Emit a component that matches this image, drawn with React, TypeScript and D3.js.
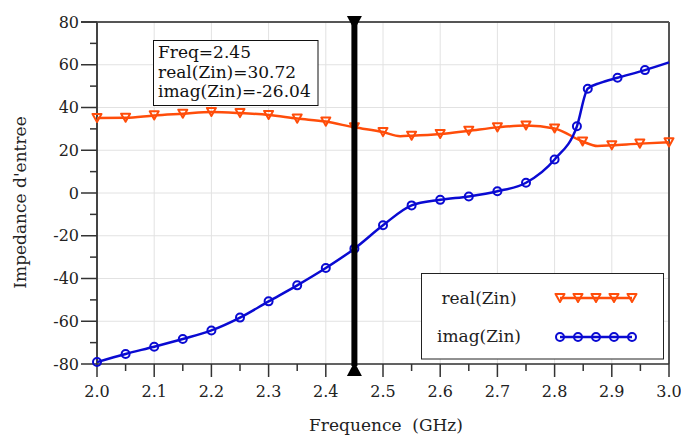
import React from "react";
import * as d3 from "d3";

// Input impedance of the antenna versus frequency (ADS-style plot)
const realFreq = [2.0, 2.05, 2.1, 2.15, 2.2, 2.25, 2.3, 2.35, 2.4, 2.45, 2.5, 2.55, 2.6, 2.65, 2.7, 2.75, 2.8, 2.849, 2.9, 2.949, 3.0];
const realVals = [35.1, 35.2, 36.3, 37.1, 37.9, 37.4, 36.5, 34.8, 33.4, 30.72, 28.5, 26.8, 27.6, 29.1, 30.7, 31.6, 30.2, 24.1, 22.3, 23.1, 23.7];

const imagFreq = [2.0, 2.05, 2.1, 2.15, 2.2, 2.25, 2.3, 2.35, 2.4, 2.45, 2.5, 2.55, 2.6, 2.65, 2.7, 2.75, 2.8, 2.839, 2.858, 2.91, 2.958];
const imagVals = [-79.1, -75.3, -71.9, -68.3, -64.3, -58.3, -50.7, -43.2, -35.1, -26.04, -15.1, -5.8, -3.2, -1.6, 0.8, 4.8, 15.7, 31.2, 48.8, 53.9, 57.5];

// extra samples of the swept traces between markers
const realExtraFreq = [2.53, 2.875];
const realExtraVals = [26.6, 22.0];
const imagExtraFreq = [2.88, 3.0];
const imagExtraVals = [51.5, 61.1];

const xTicks = [2.0, 2.1, 2.2, 2.3, 2.4, 2.5, 2.6, 2.7, 2.8, 2.9, 3.0];
const yTicks = [-80, -60, -40, -20, 0, 20, 40, 60, 80];

const markerFreq = 2.45;
const markerLines = ["Freq=2.45", "real(Zin)=30.72", "imag(Zin)=-26.04"];
const seriesNames = ["real(Zin)", "imag(Zin)"];

const W = 681;
const H = 437;
const left = 97;
const right = 669;
const top = 22;
const bottom = 364;

const ORANGE = "#ff4d0a";
const BLUE = "#0a0ad2";
const FONT = "'DejaVu Serif', serif";

function mergeSorted(fx: number[], fy: number[], ex: number[], ey: number[]) {
  const pts = fx.map((f, i) => [f, fy[i]] as [number, number]).concat(ex.map((f, i) => [f, ey[i]] as [number, number]));
  return pts.sort((a, b) => a[0] - b[0]);
}

function Tri({ cx, cy, s }: { cx: number; cy: number; s: number }) {
  const h = s * 0.9;
  return (
    <path
      d={`M${cx - s / 2},${cy - h / 2}L${cx + s / 2},${cy - h / 2}L${cx},${cy + h / 2}Z`}
      fill="none"
      stroke={ORANGE}
      strokeWidth={2}
      strokeLinejoin="round"
    />
  );
}

function Circ({ cx, cy, r }: { cx: number; cy: number; r: number }) {
  return <circle cx={cx} cy={cy} r={r} fill="none" stroke={BLUE} strokeWidth={2} />;
}

export default function App() {
  const x = d3.scaleLinear().domain([2.0, 3.0]).range([left, right]);
  const y = d3.scaleLinear().domain([-80, 80]).range([bottom, top]);

  const line = d3
    .line<[number, number]>()
    .x((d) => x(d[0]))
    .y((d) => y(d[1]))
    .curve(d3.curveMonotoneX);

  const realPts = mergeSorted(realFreq, realVals, realExtraFreq, realExtraVals);
  const imagPts = mergeSorted(imagFreq, imagVals, imagExtraFreq, imagExtraVals);

  const xMinor = d3.range(0, 10).map((i) => 2.05 + i * 0.1);
  const yMinor = d3.range(0, 8).map((i) => -70 + i * 20);

  const mx = x(markerFreq);

  const legendX = [560, 578, 596, 614, 632];

  return (
    <svg width={W} height={H} style={{ position: "absolute", left: 0, top: 0 }} fontFamily={FONT}>
      <rect width={W} height={H} fill="white" />
      {/* grid */}
      {xTicks.map((t) => (
        <line key={"gx" + t} x1={x(t)} x2={x(t)} y1={top} y2={bottom} stroke="#e2e2e2" strokeWidth={1} />
      ))}
      {yTicks.map((t) => (
        <line key={"gy" + t} x1={left} x2={right} y1={y(t)} y2={y(t)} stroke="#e2e2e2" strokeWidth={1} />
      ))}

      {/* frame */}
      <line x1={81} x2={right} y1={top} y2={top} stroke="#222" strokeWidth={1.5} />
      <line x1={right} x2={right} y1={top} y2={bottom} stroke="#555" strokeWidth={2} />
      <line x1={left} x2={right} y1={bottom} y2={bottom} stroke="#333" strokeWidth={1.5} />
      <line x1={left} x2={left} y1={top} y2={bottom} stroke="#444" strokeWidth={2} />

      {/* y ticks */}
      {yTicks.map((t) => (
        <g key={"yt" + t}>
          <line x1={81} x2={left} y1={y(t)} y2={y(t)} stroke="#333" strokeWidth={1.5} />
          <text x={79} y={y(t)} dy="0.35em" textAnchor="end" fontSize={16} fill="#222">
            {t}
          </text>
        </g>
      ))}
      {yMinor.map((t) => (
        <line key={"ym" + t} x1={90} x2={left} y1={y(t)} y2={y(t)} stroke="#333" strokeWidth={1.5} />
      ))}

      {/* x ticks */}
      {xTicks.map((t) => (
        <g key={"xt" + t}>
          <line x1={x(t)} x2={x(t)} y1={bottom} y2={377} stroke="#333" strokeWidth={1.5} />
          <text x={x(t)} y={397} textAnchor="middle" fontSize={16} fill="#222">
            {t.toFixed(1)}
          </text>
        </g>
      ))}
      {xMinor.map((t) => (
        <line key={"xm" + t} x1={x(t)} x2={x(t)} y1={bottom} y2={371} stroke="#333" strokeWidth={1.5} />
      ))}

      {/* axis titles */}
      <text x={386} y={431} textAnchor="middle" fontSize={17} fill="#222" xmlSpace="preserve">
        {"Frequence  (GHz)"}
      </text>
      <text transform={`translate(26,${(115 + 290) / 2}) rotate(-90)`} textAnchor="middle" fontSize={17} fill="#222">
        Impedance d'entree
      </text>

      {/* traces */}
      <path d={line(realPts) ?? ""} fill="none" stroke={ORANGE} strokeWidth={2.5} />
      <path d={line(imagPts) ?? ""} fill="none" stroke={BLUE} strokeWidth={2.5} />
      {realFreq.map((f, i) => (
        <Tri key={"rm" + i} cx={x(f)} cy={y(realVals[i])} s={9} />
      ))}
      {imagFreq.map((f, i) => (
        <Circ key={"im" + i} cx={x(f)} cy={y(imagVals[i])} r={4} />
      ))}

      {/* marker */}
      <line x1={mx} x2={mx} y1={20} y2={366} stroke="black" strokeWidth={6} />
      <path d={`M${mx - 7.5},16L${mx + 7.5},16L${mx},30Z`} fill="black" />
      <path d={`M${mx - 7.5},376L${mx + 7.5},376L${mx},362Z`} fill="black" />

      {/* marker readout */}
      <rect x={153.5} y={40.5} width={164.5} height={65} fill="white" stroke="#111" strokeWidth={1} />
      {markerLines.map((s, i) => (
        <text key={s} x={158} y={58 + i * 19.5} fontSize={17} fill="#111">
          {s}
        </text>
      ))}

      {/* legend */}
      <rect x={421.5} y={273.5} width={242} height={85.5} fill="white" stroke="#222" strokeWidth={1} />
      {seriesNames.map((s, i) => (
        <text key={s} x={479} y={304 + i * 38} textAnchor="middle" fontSize={17} fill="#222">
          {s}
        </text>
      ))}
      <line x1={legendX[0]} x2={legendX[4]} y1={298} y2={298} stroke={ORANGE} strokeWidth={2.5} />
      {legendX.map((lx) => (
        <Tri key={"lr" + lx} cx={lx} cy={298} s={9} />
      ))}
      <line x1={legendX[0]} x2={legendX[4]} y1={337} y2={337} stroke={BLUE} strokeWidth={2.5} />
      {legendX.map((lx) => (
        <Circ key={"li" + lx} cx={lx} cy={337} r={4} />
      ))}
    </svg>
  );
}
